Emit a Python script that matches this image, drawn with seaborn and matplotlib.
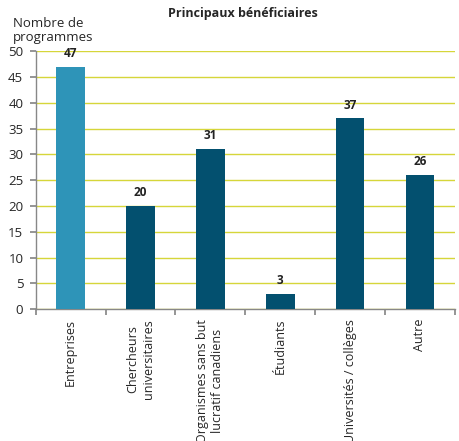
import numpy as np
import matplotlib
matplotlib.use('Agg')
import matplotlib.pyplot as plt
import seaborn as sns

categories = ['Entreprises', 'Chercheurs\nuniversitaires', 'Organismes sans but\nlucratif canadiens',
              'Étudiants', 'Universités / collèges', 'Autre']
values = [47, 20, 31, 3, 37, 26]
colors = ['#2E94B8', '#03506F', '#03506F', '#03506F', '#03506F', '#03506F']

sns.set_theme(style='white')
plt.rcParams['font.family'] = ['Open Sans', 'DejaVu Sans']

fig = plt.figure(figsize=(4.59, 4.41), dpi=100)
ax = fig.add_axes([0.078, 0.299, 0.913, 0.585])

sns.barplot(x=categories, y=values, hue=categories, palette=colors, legend=False,
            width=0.41, saturation=1, linewidth=0, ax=ax, zorder=3)

ax.set_ylim(0, 50)
ax.set_xlim(-0.5, 5.5)
ax.set_yticks(range(0, 51, 5))
ax.yaxis.grid(True, color='#D6D63A', lw=1, zorder=0)
ax.set_axisbelow(True)

for i, v in enumerate(values):
    ax.text(i, v + 1.3, str(v), ha='center', va='bottom', fontsize=8.5, fontweight='bold', color='#222222')

# tick marks at category boundaries, labels at centres
ax.set_xticks(np.arange(-0.5, 6, 1))
ax.set_xticklabels([])
ax.set_xticks(np.arange(6), minor=True)
ax.set_xticklabels(categories, minor=True, rotation=90, fontsize=9, ha='center', va='top',
                   multialignment='center')
ax.tick_params(axis='x', which='major', length=4, color='#888888', direction='out', bottom=True)
ax.tick_params(axis='x', which='minor', length=0, pad=7)
ax.tick_params(axis='y', length=4, color='#888888', direction='out', left=True, labelsize=9.5, pad=5)

for s in ['top', 'right']:
    ax.spines[s].set_visible(False)
for s in ['left', 'bottom']:
    ax.spines[s].set_color('#888888')
    ax.spines[s].set_linewidth(1)

ax.set_xlabel('')
ax.set_ylabel('')
fig.text(0.028, 0.9, 'Nombre de\nprogrammes', fontsize=9.5, ha='left', va='bottom', linespacing=1.15)
fig.text(0.53, 0.955, 'Principaux bénéficiaires', fontsize=9, fontweight='bold', ha='center', va='bottom')

fig.savefig('out.png', dpi=100)
